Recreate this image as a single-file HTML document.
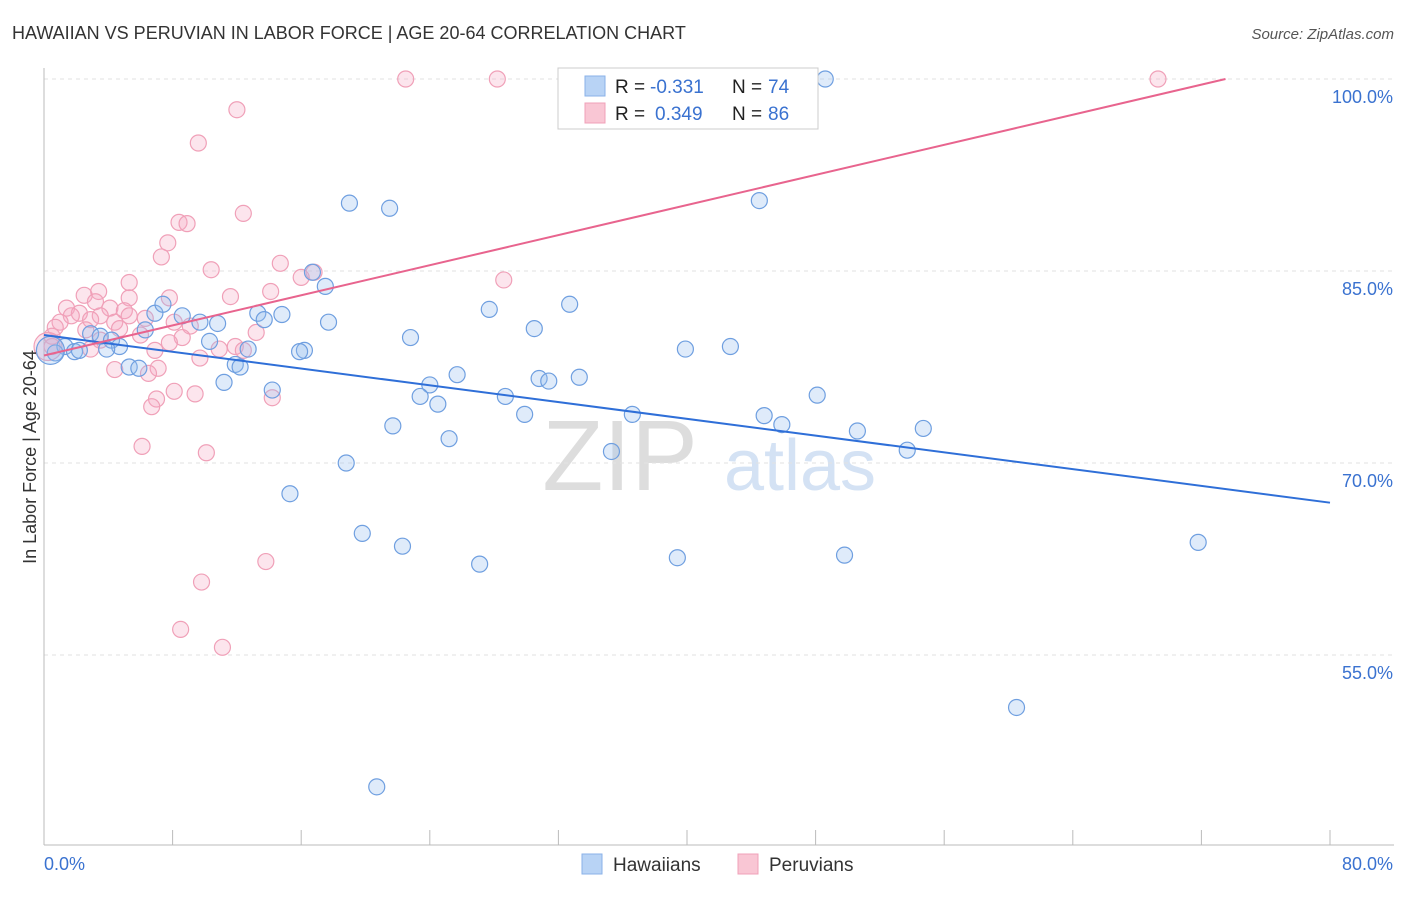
<!DOCTYPE html>
<html><head><meta charset="utf-8"><style>
body{margin:0;background:#fff;font-family:"Liberation Sans",sans-serif;}
svg text{font-family:"Liberation Sans",sans-serif;}
</style></head><body>
<svg id="chart" width="1406" height="892">
<text x="12" y="39" font-size="18" fill="#333">HAWAIIAN VS PERUVIAN IN LABOR FORCE | AGE 20-64 CORRELATION CHART</text>
<text x="1394" y="39" font-size="15" fill="#555" font-style="italic" text-anchor="end">Source: ZipAtlas.com</text>
<text x="620" y="490" font-size="100" fill="#ddd" font-family="Liberation Serif" text-anchor="middle">ZIP</text>
<text x="800" y="490" font-size="72" fill="#d4e2f4" text-anchor="middle">atlas</text>
<g id="grid"></g><g id="axes"></g><g id="pts"></g><g id="lines"></g>
<text x="36" y="457" font-size="18" fill="#333" text-anchor="middle" transform="rotate(-90 36 457)">In Labor Force | Age 20-64</text>
<g>
<rect x="558" y="68" width="260" height="61" fill="#fff" stroke="#ccc"/>
<rect x="585" y="76" width="20" height="20" fill="#b8d3f5" stroke="#8ab2e8"/>
<rect x="585" y="103" width="20" height="20" fill="#f9c6d4" stroke="#f0a0b8"/>
<text x="615" y="93" font-size="19" fill="#222">R = </text><text x="650" y="93" font-size="19" fill="#3a72d0">-0.331</text>
<text x="732" y="93" font-size="19" fill="#222">N = </text><text x="768" y="93" font-size="19" fill="#3a72d0">74</text>
<text x="615" y="120" font-size="19" fill="#222">R = </text><text x="655" y="120" font-size="19" fill="#3a72d0">0.349</text>
<text x="732" y="120" font-size="19" fill="#222">N = </text><text x="768" y="120" font-size="19" fill="#3a72d0">86</text>
</g>
<g>
<rect x="582" y="854" width="20" height="20" fill="#b8d3f5" stroke="#8ab2e8"/>
<text x="613" y="871" font-size="19" fill="#333">Hawaiians</text>
<rect x="738" y="854" width="20" height="20" fill="#f9c6d4" stroke="#f0a0b8"/>
<text x="769" y="871" font-size="19" fill="#333">Peruvians</text>
</g>
</svg>
<script>
const blueX=[48.6,44.5,19.0,21.5,16.7,17.5,32.7,27.7,13.3,14.8,8.6,6.9,7.4,13.7,17.7,10.8,9.7,30.5,6.3,2.9,22.8,3.5,4.2,10.3,4.7,42.7,39.9,1.3,3.9,12.7,16.2,15.9,1.9,0.7,2.2,11.9,12.2,5.3,5.9,25.7,30.8,33.3,31.4,11.2,24.0,14.2,23.4,28.7,48.1,24.5,29.9,36.6,44.8,45.9,21.7,50.6,54.7,25.2,53.7,35.3,18.8,15.3,19.8,22.3,71.8,39.4,49.8,27.1,60.5,20.7,0.4];
const blueY=[100,90.5,90.3,89.9,84.9,83.8,82.4,82.0,81.7,81.6,81.5,81.7,82.4,81.2,81.0,80.9,81.0,80.5,80.4,80.1,79.8,79.9,79.6,79.5,79.1,79.1,78.9,79.1,78.9,78.9,78.8,78.7,78.7,78.6,78.8,77.7,77.5,77.5,77.4,76.9,76.6,76.7,76.4,76.3,76.1,75.7,75.2,75.2,75.3,74.6,73.8,73.8,73.7,73.0,72.9,72.5,72.7,71.9,71.0,70.9,70.0,67.6,64.5,63.5,63.8,62.6,62.8,62.1,50.9,44.7,78.8];
const pinkX=[22.5,28.2,69.3,12.0,9.6,12.4,8.4,8.9,7.7,7.3,14.7,10.4,16.8,16.0,28.6,5.3,14.1,3.4,2.5,11.6,7.8,5.3,3.2,1.4,4.1,5.0,2.2,1.7,3.5,5.3,6.3,1.0,2.9,4.4,8.1,9.1,0.7,4.7,2.6,13.2,6.0,0.5,8.6,3.5,7.8,11.9,0.5,10.9,2.9,6.9,12.4,9.7,7.1,4.4,6.5,8.1,14.2,9.4,7.0,6.7,6.1,10.1,13.8,9.8,8.5,11.1,0.25];
const pinkY=[100,100,100,97.6,95.0,89.5,88.8,88.7,87.2,86.1,85.6,85.1,84.9,84.5,84.3,84.1,83.4,83.4,83.1,83.0,82.9,82.9,82.6,82.1,82.1,81.9,81.7,81.5,81.5,81.5,81.3,81.0,81.2,81.0,81.0,80.7,80.6,80.5,80.4,80.2,80.0,79.9,79.8,79.6,79.4,79.1,79.1,78.9,78.9,78.8,78.8,78.2,77.4,77.3,77.0,75.6,75.1,75.4,75.0,74.4,71.3,70.8,62.3,60.7,57.0,55.6,79.1];
const yTicks=[100,85,70,55];
const yTickLabels=["100.0%","85.0%","70.0%","55.0%"];
const xTicks=[0,8,16,24,32,40,48,56,64,72,80];
const blueTrend=[[0,80.0],[80,66.9]];
const pinkTrend=[[0,78.4],[73.5,100]];
const NS="http://www.w3.org/2000/svg";
const sx=v=>44+v/80*1286, sy=v=>79+(100-v)*12.8;
function mk(p,t,a){const e=document.createElementNS(NS,t);for(const k in a)e.setAttribute(k,a[k]);p.appendChild(e);return e;}
const grid=document.getElementById('grid'),axes=document.getElementById('axes'),pts=document.getElementById('pts'),lines=document.getElementById('lines');
yTicks.forEach((v,i)=>{
 const l=mk(grid,'line',{x1:44,x2:1394,y1:sy(v),y2:sy(v),stroke:'#e2e2e2','stroke-dasharray':'4 4'});
 
 
 const t=mk(axes,'text',{x:1393,y:sy(v)+24,'font-size':18,fill:'#3a72d0','text-anchor':'end'});t.textContent=yTickLabels[i];
 
 
});
const ax=mk(axes,'line',{x1:44,x2:44,y1:68,y2:845,stroke:'#bbb'});


const bx=mk(axes,'line',{x1:44,x2:1394,y1:845,y2:845,stroke:'#bbb'});


xTicks.forEach(v=>{const l=mk(axes,'line',{x1:sx(v),x2:sx(v),y1:830,y2:845,stroke:'#bbb'});
 
 });
const t0=mk(axes,'text',{x:44,y:870,'font-size':18,fill:'#3a72d0'});t0.textContent='0.0%';


const t1=mk(axes,'text',{x:1393,y:870,'font-size':18,fill:'#3a72d0','text-anchor':'end'});t1.textContent='80.0%';


pinkX.forEach((x,i)=>{const c=mk(pts,'circle',{cx:sx(x),cy:sy(pinkY[i]),r:i==pinkX.length-1?14:8,fill:'rgba(246,170,195,0.3)',stroke:'#f0a0b8','stroke-width':1.2});
 
 });
blueX.forEach((x,i)=>{const c=mk(pts,'circle',{cx:sx(x),cy:sy(blueY[i]),r:i==blueX.length-1?14:8,fill:'rgba(150,190,240,0.3)',stroke:'#6f9fe0','stroke-width':1.2});
 
 });
const bl=mk(lines,'line',{x1:sx(blueTrend[0][0]),y1:sy(blueTrend[0][1]),x2:sx(blueTrend[1][0]),y2:sy(blueTrend[1][1]),stroke:'#2f6fd8','stroke-width':2});


const pl=mk(lines,'line',{x1:sx(pinkTrend[0][0]),y1:sy(pinkTrend[0][1]),x2:sx(pinkTrend[1][0]),y2:sy(pinkTrend[1][1]),stroke:'#e8648e','stroke-width':2});


</script>
</body></html>
